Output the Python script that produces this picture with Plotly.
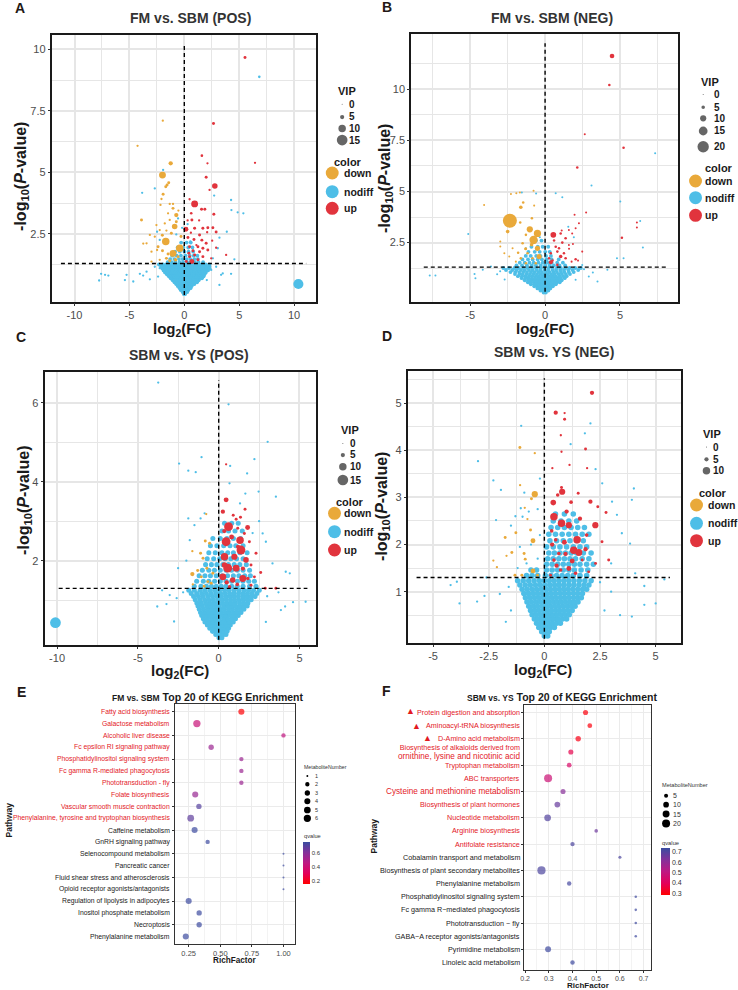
import plotly.graph_objects as go

W, H = 738, 990
FONT = "Liberation Sans, Arial, Helvetica, sans-serif"
C_DOWN, C_NODIFF, C_UP = "#E9A93A", "#4EBEE7", "#E1343D"
RED_TXT = "#E3191F"
DARK = "#1A1A1A"

# ======================= Panel A: FM vs. SBM (POS) =======================
# (log2FC, -log10 P, VIP)
A_up = [(5.53,9.67,3),(2.66,6.99,3),(1.60,5.68,2.5),(2.11,5.37,2),(6.44,5.39,2),(1.99,4.80,3),(2.78,4.45,7),
        (2.30,4.29,2),(0.94,3.72,9),(0.48,3.91,2),(1.57,3.50,3),(1.87,3.50,3),(0.63,3.34,2.5),(2.69,3.30,3),
        (0.69,3.07,3),(0.15,2.69,6),(0.94,2.73,3),(1.69,2.73,3),(2.14,2.75,3),(2.60,2.75,3),(2.08,2.57,2),
        (2.90,2.58,3),(0.33,2.36,3),(1.39,2.46,3),(0.88,2.28,3),(1.60,2.25,3),(1.99,2.12,3),(2.54,2.23,2),
        (0.48,1.98,3),(1.24,1.98,3),(1.69,1.92,3),(0.79,1.82,3),(1.39,1.78,3),(2.14,1.85,3),(2.90,1.94,2),
        (3.81,1.65,2),(0.48,1.58,3),(0.94,1.65,3),(1.69,1.58,3),(0.69,1.38,6),(0.18,1.38,3),(1.24,1.45,3),
        (2.45,1.51,2),(0.42,1.72,3),(1.10,2.05,2),(0.60,2.55,2),(1.35,3.05,2),(0.30,3.05,2)]
A_down = [(-1.96,7.10,2),(-4.26,6.08,2),(-1.24,5.37,5),(-1.99,4.89,9),(-1.57,4.49,3),(-1.69,4.42,3),(-1.42,4.58,3),
          (-1.93,4.11,3),(-2.08,3.92,2),(-2.17,3.68,2),(-1.33,3.72,2),(-1.03,3.72,2),(-1.03,3.54,3),(-1.48,3.34,2),
          (-0.73,3.27,5),(-0.54,3.45,2),(-3.90,3.07,3),(-0.73,3.00,3),(-0.88,2.80,7),(-1.33,3.07,2),(-1.78,2.93,2),
          (-2.54,2.86,2),(-2.24,2.66,2),(-1.63,2.64,2),(-1.18,2.53,3),(-3.14,2.46,2),(-2.69,2.39,2),(-1.69,2.19,10),
          (-3.44,2.12,2),(-3.74,2.11,2),(-2.39,1.98,3),(-1.99,1.82,3),(-0.42,1.92,10),(-1.03,1.71,9),(-2.99,1.78,2),
          (-2.48,1.85,2),(-1.48,1.69,3),(-0.57,1.58,3),(-1.63,1.51,3),(-2.24,1.45,2),(-2.99,1.38,2),(-1.33,1.41,3),
          (-0.80,1.45,4),(-0.30,2.40,3),(-2.00,2.45,3)]
A_nodiff = [(6.83,8.88,2.5),(4.26,3.88,2),(4.29,3.47,2),(4.86,3.38,2),(5.38,3.34,2),(-3.84,4.17,2),(-2.69,4.35,2),
            (-1.93,5.10,2),(2.72,4.06,2),(3.87,2.59,2),(4.56,1.47,2),(3.20,2.35,2),(3.05,1.92,2),(2.60,1.51,2),
            (-2.48,2.59,2),(-2.24,2.26,2),(-0.73,2.48,2),(-0.57,3.13,2),(-7.58,0.88,2),(-7.76,0.61,2),(-7.22,0.84,2),
            (-6.92,0.81,2),(-5.26,0.84,2),(-4.65,0.57,2),(-5.41,0.63,2),(-4.05,0.88,2),(-3.75,0.81,2),(-3.44,0.97,2),
            (-3.14,0.66,2),(-2.69,1.17,2),(-2.39,0.77,2),(-2.24,1.11,2),(2.90,1.17,2),(3.35,0.84,2),(3.50,0.90,2),
            (3.20,0.43,2),(4.26,0.88,2),(2.05,0.63,2),(2.45,1.04,2),(1.78,0.77,2),(2.20,1.24,2),(10.39,0.47,14),
            (0.30,2.90,2),(0.55,2.20,2),(-0.20,2.75,2)]
# dense nodiff core, rows of (-log10 P, [log2FC ...])
A_core = [(0.06,[-0.05,0.08]),(0.14,[-0.16,0.01,0.15,0.27]),(0.22,[-0.31,-0.14,0.03,0.19,0.35]),
          (0.30,[-0.43,-0.24,-0.08,0.11,0.26,0.43,0.57]),(0.38,[-0.58,-0.41,-0.21,-0.04,0.13,0.31,0.47,0.66]),
          (0.46,[-0.73,-0.54,-0.37,-0.17,0.01,0.19,0.35,0.55,0.71,0.9]),
          (0.54,[-0.9,-0.69,-0.51,-0.31,-0.12,0.07,0.24,0.45,0.61,0.83,0.99,1.16]),
          (0.62,[-1.06,-0.84,-0.65,-0.44,-0.26,-0.04,0.14,0.36,0.54,0.76,0.94,1.16,1.31]),
          (0.70,[-1.24,-1.01,-0.77,-0.59,-0.37,-0.19,0.03,0.21,0.43,0.61,0.83,1.01,1.23,1.41,1.61]),
          (0.78,[-1.41,-1.14,-0.93,-0.69,-0.51,-0.29,-0.11,0.11,0.29,0.51,0.69,0.91,1.09,1.31,1.51,1.76]),
          (0.86,[-1.59,-1.33,-1.07,-0.86,-0.61,-0.41,-0.17,0.03,0.27,0.47,0.71,0.91,1.15,1.35,1.61,1.84]),
          (0.94,[-1.76,-1.47,-1.23,-0.97,-0.75,-0.49,-0.27,-0.01,0.21,0.47,0.69,0.95,1.17,1.43,1.67,1.96]),
          (1.02,[-1.89,-1.61,-1.34,-1.11,-0.84,-0.61,-0.34,-0.11,0.16,0.39,0.66,0.89,1.16,1.39,1.66,1.89,2.16]),
          (1.10,[-2.01,-1.71,-1.46,-1.19,-0.96,-0.69,-0.46,-0.19,0.04,0.31,0.54,0.81,1.04,1.31,1.54,1.81,2.04,2.31]),
          (1.18,[-2.11,-1.81,-1.56,-1.27,-1.03,-0.75,-0.51,-0.24,0.01,0.26,0.49,0.76,0.99,1.26,1.49,1.76,1.99,2.29]),
          (1.26,[-2.31,-1.94,-1.66,-1.37,-1.11,-0.81,-0.56,-0.27,0.01,0.29,0.54,0.83,1.09,1.39,1.64,1.96,2.29]),
          (1.36,[-1.51,-1.14,-0.81,-0.44,-0.11,0.26,0.59,0.96,1.29,1.71]),
          (1.48,[-1.29,-0.91,-0.49,-0.16,0.21,0.54,0.91,1.24]),(1.62,[-1.11,-0.69,-0.31,0.11,0.49,0.86,1.19]),
          (1.78,[-0.84,-0.41,0.01,0.39,0.81]),(1.95,[-0.61,-0.09,0.36,0.74]),(2.15,[-0.29,0.21,0.59])]

# ======================= Panel B: FM vs. SBM (NEG) =======================
B_up = [(4.47,11.63,7),(4.29,10.21,3),(2.65,7.80,2),(5.24,7.14,3),(2.15,6.17,3),(2.74,3.97,2),(1.97,3.86,2),
        (6.13,3.48,2),(6.13,3.24,2),(2.26,3.45,2),(2.04,3.20,2),(1.59,3.12,2),(1.11,3.09,2),(0.55,2.88,9),
        (1.04,2.95,3),(1.81,2.95,2),(1.37,2.71,3),(5.13,2.74,3),(1.15,2.50,3),(0.71,2.30,3),(0.93,2.22,3),
        (1.59,2.38,2),(1.86,2.43,2),(2.48,2.06,2),(0.38,1.98,3),(0.82,2.06,3),(1.26,1.98,3),(1.04,1.82,5),
        (1.37,1.74,3),(0.27,1.74,3),(0.49,1.62,3),(2.04,1.69,3),(0.38,1.54,6),(0.82,1.41,3),(1.77,1.57,2),
        (2.20,1.62,2),(0.60,2.60,3),(1.60,2.20,2)]
B_down = [(-0.77,5.04,2),(-1.68,4.95,2),(-2.28,4.88,2),(-1.92,4.91,2),(-4.07,4.34,2),(-1.46,4.46,3),(-1.62,4.23,5),
          (-0.73,4.31,2),(-2.35,3.57,25),(-2.50,3.04,5),(-1.66,3.48,3),(-0.88,3.69,3),(-1.02,3.15,10),(-0.51,2.95,12),
          (-0.77,2.63,14),(-1.28,2.88,3),(-2.99,2.55,2),(-2.99,2.31,2),(-1.50,2.47,3),(-2.17,2.22,2),(-2.72,1.98,2),
          (-2.39,1.82,2),(-0.51,2.22,8),(-0.40,1.82,8),(-1.17,1.98,3),(-0.84,1.74,3),(-1.62,1.74,3),(-1.95,1.57,2),
          (-1.28,1.49,3),(-0.62,1.49,3),(-1.30,2.20,4),(-0.90,2.40,5),(-1.80,2.00,3)]
B_nodiff = [(7.35,6.87,2),(3.10,5.29,2),(0.71,4.91,2),(1.15,4.72,2),(5.02,4.51,2),(6.35,3.56,2),(6.53,2.26,2),
            (-5.13,2.92,2),(-0.35,2.76,2),(-1.28,2.22,2),(1.55,3.28,2),(1.92,2.76,2),(4.80,1.74,2),(5.24,1.74,2),
            (2.48,1.41,2),(4.16,1.17,2),(-7.70,0.89,2),(-7.32,0.89,2),(-4.71,0.97,2),(-4.65,0.76,2),(-4.16,1.17,2),
            (-3.61,1.33,2),(2.92,0.84,2),(3.19,1.04,2),(2.04,0.68,2),(-3.20,0.95,2),(-3.00,1.10,2),(-2.70,0.70,2),
            (2.60,1.20,2),(3.50,0.60,2),(-0.60,4.90,2),(-1.55,4.95,2)]
B_core = [(0.06,[-0.1,0.05]),(0.16,[-0.31,-0.12,0.06,0.22]),(0.26,[-0.51,-0.32,-0.14,0.02,0.19,0.35]),
          (0.36,[-0.72,-0.53,-0.34,-0.16,0.01,0.17,0.36,0.52]),
          (0.46,[-0.95,-0.74,-0.56,-0.37,-0.19,0.01,0.18,0.37,0.55,0.72]),
          (0.56,[-1.15,-0.96,-0.74,-0.55,-0.36,-0.17,0.02,0.21,0.39,0.61,0.79,0.98]),
          (0.66,[-1.36,-1.12,-0.91,-0.72,-0.51,-0.32,-0.11,0.08,0.29,0.48,0.69,0.88,1.11]),
          (0.76,[-1.56,-1.31,-1.11,-0.88,-0.67,-0.44,-0.24,-0.03,0.19,0.41,0.61,0.83,1.04,1.31]),
          (0.86,[-1.81,-1.54,-1.31,-1.07,-0.86,-0.61,-0.41,-0.17,0.05,0.28,0.51,0.72,0.96,1.21,1.44]),
          (0.96,[-2.01,-1.71,-1.49,-1.23,-1.01,-0.76,-0.54,-0.29,-0.07,0.17,0.41,0.63,0.89,1.12,1.39,1.66]),
          (1.06,[-2.31,-1.99,-1.73,-1.46,-1.21,-0.94,-0.71,-0.44,-0.21,0.06,0.29,0.56,0.79,1.06,1.29,1.59,1.91]),
          (1.16,[-2.61,-2.19,-1.91,-1.61,-1.36,-1.07,-0.83,-0.55,-0.31,-0.03,0.21,0.49,0.73,1.01,1.26,1.55,1.84,2.21]),
          (1.26,[-2.79,-2.41,-2.04,-1.76,-1.44,-1.17,-0.87,-0.61,-0.31,-0.06,0.23,0.49,0.79,1.05,1.36,1.64,2.01,2.39]),
          (1.38,[-1.91,-1.54,-1.21,-0.89,-0.61,-0.29,0.01,0.31,0.59,0.96,1.34]),
          (1.52,[-1.69,-1.36,-1.04,-0.76,-0.44,-0.16,0.16,0.44,0.81,1.19]),
          (1.68,[-1.51,-1.14,-0.83,-0.49,-0.21,0.11,0.44,0.91]),(1.85,[-1.29,-0.96,-0.59,-0.31,0.06,0.39]),
          (2.05,[-1.11,-0.69,-0.36,0.01,0.31]),(2.30,[-0.91,-0.49,-0.16,0.21]),(2.60,[-0.61,-0.24])]

# ======================= Panel C: SBM vs. YS (POS) =======================
C_up = [(0.46,4.44,2),(0.46,3.54,6),(0.26,3.24,5),(1.08,3.05,3),(1.63,3.30,3),(1.79,2.84,6),(0.61,2.86,12),
        (1.18,2.82,3),(0.46,2.48,12),(1.32,2.52,10),(1.59,2.69,3),(1.90,2.48,3),(0.36,2.10,10),(0.97,2.10,8),
        (1.38,2.27,12),(0.56,1.81,12),(1.08,1.81,9),(1.69,2.02,7),(2.31,2.19,3),(2.00,1.89,3),(1.49,1.55,9),
        (0.87,1.51,7),(0.26,1.59,9),(2.21,1.59,3),(2.00,1.38,3),(0.67,1.34,4),(2.88,1.30,3),(3.54,1.30,3),
        (0.36,1.89,7),(1.20,2.35,5),(0.80,2.60,6),(0.35,2.75,5),(1.50,1.80,5),(1.15,1.40,4),(0.50,1.45,5),
        (1.80,1.55,4),(2.60,1.70,3),(0.90,3.15,3),(1.35,3.10,3)]
C_down = [(-0.77,3.18,2),(-0.83,2.50,3),(-0.56,2.44,3),(-1.63,2.24,2),(-1.12,2.19,3),(-0.97,2.06,3),(-1.63,1.66,5),
          (-1.08,1.59,3),(-0.36,1.68,3),(-0.67,1.47,3),(-0.46,1.43,3),(-0.73,1.81,3),(-1.30,1.75,3),(-0.90,1.35,3),
          (-1.60,1.40,2)]
C_nodiff = [(-3.74,6.51,2),(0.61,5.96,2),(3.03,5.01,2),(-1.06,4.62,2),(-2.45,4.46,2),(-1.88,4.28,2),(-1.42,4.24,2),
            (0.71,4.40,2),(2.21,4.57,2),(1.76,4.21,2),(0.67,3.96,2),(2.47,3.75,2),(3.54,3.62,2),(1.65,3.70,2),
            (-0.87,3.20,2),(-1.12,3.07,2),(-1.88,3.07,2),(1.32,3.45,2),(2.72,2.69,2),(2.92,2.48,2),(-2.51,1.81,2),
            (-1.79,2.52,2),(4.15,1.72,2),(4.40,1.68,2),(3.33,1.93,2),(5.38,0.96,2),(4.11,0.84,2),(3.85,0.75,2),
            (-3.80,0.84,2),(-3.23,0.90,2),(-3.03,1.13,2),(-10.10,0.43,15),(-2.76,0.46,2),(2.92,0.45,2),(-2.20,1.20,2),
            (-2.60,1.05,2),(3.00,1.10,2),(3.70,1.20,2),(4.60,0.95,2),(-3.50,1.25,2),(2.10,2.70,2),(-1.50,2.90,2),
            (-2.00,2.00,2),(2.50,3.00,2)]
C_core = [(0.05,[0.02,0.2]),(0.13,[-0.18,0.05,0.28,0.45]),(0.21,[-0.38,-0.15,0.08,0.31,0.52]),
          (0.29,[-0.55,-0.32,-0.07,0.15,0.38,0.61]),(0.37,[-0.7,-0.47,-0.22,0.02,0.26,0.48,0.72]),
          (0.45,[-0.85,-0.61,-0.35,-0.1,0.16,0.4,0.64,0.9]),(0.53,[-0.95,-0.7,-0.44,-0.2,0.05,0.31,0.55,0.81,1.04]),
          (0.61,[-1.05,-0.79,-0.55,-0.29,-0.05,0.21,0.45,0.71,0.95,1.21]),
          (0.69,[-1.12,-0.86,-0.61,-0.35,-0.1,0.15,0.41,0.65,0.91,1.15,1.38]),
          (0.77,[-1.2,-0.94,-0.68,-0.42,-0.16,0.11,0.35,0.61,0.85,1.11,1.35,1.56]),
          (0.85,[-1.28,-1.01,-0.74,-0.48,-0.22,0.04,0.31,0.55,0.81,1.05,1.31,1.55,1.76]),
          (0.93,[-1.35,-1.08,-0.81,-0.54,-0.28,-0.02,0.24,0.51,0.76,1.02,1.29,1.54,1.81]),
          (1.01,[-1.45,-1.16,-0.87,-0.61,-0.33,-0.06,0.21,0.46,0.73,0.98,1.24,1.51,1.76,2.01]),
          (1.09,[-1.55,-1.25,-0.96,-0.66,-0.38,-0.1,0.17,0.44,0.71,0.96,1.22,1.49,1.74,2.01,2.25]),
          (1.17,[-1.7,-1.36,-1.05,-0.76,-0.46,-0.17,0.12,0.41,0.68,0.95,1.23,1.5,1.78,2.05,2.36]),
          (1.25,[-1.85,-1.51,-1.15,-0.86,-0.55,-0.25,0.05,0.36,0.65,0.96,1.25,1.56,1.85,2.16,2.51]),
          (1.35,[-1.51,-1.1,-0.76,-0.45,-0.15,0.16,0.45,0.81,1.15,1.51,1.91,2.31]),
          (1.48,[-1.36,-0.95,-0.61,-0.25,0.1,0.46,0.8,1.16,1.5,1.86,2.21]),
          (1.62,[-1.21,-0.85,-0.51,-0.15,0.21,0.55,0.91,1.25,1.61,1.96]),
          (1.76,[-1.01,-0.61,-0.26,0.1,0.46,0.8,1.16,1.51,1.91]),(1.90,[-0.81,-0.45,-0.11,0.26,0.6,0.96,1.31,1.71]),
          (2.05,[-0.71,-0.31,0.06,0.41,0.75,1.11,1.51]),(2.20,[-0.61,-0.21,0.2,0.56,0.91,1.31,1.76]),
          (2.38,[-0.51,-0.11,0.31,0.7,1.06,1.51]),(2.56,[-0.36,0.1,0.51,0.91,1.36]),(2.75,[0.21,0.61,1.01,1.46]),
          (2.95,[0.36,0.81,1.21])]

# ======================= Panel D: SBM vs. YS (NEG) =======================
D_up = [(2.14,5.22,5),(0.51,4.80,5),(0.91,4.79,2),(0.91,4.66,3),(0.74,4.32,2),(0.77,3.97,2),(1.85,4.03,3),
        (0.36,3.62,2),(1.13,3.69,2),(1.92,3.62,2),(0.77,3.21,3),(0.80,3.12,8),(0.40,2.89,7),(0.43,2.59,10),
        (2.07,2.91,5),(1.52,3.09,3),(0.77,2.45,10),(1.10,2.41,8),(2.29,2.41,8),(0.33,2.29,4),(1.47,2.10,10),
        (1.32,1.88,10),(1.55,1.83,9),(2.59,2.06,3),(0.51,2.10,4),(0.65,1.81,4),(0.43,1.67,4),(1.10,1.49,6),
        (1.70,1.67,3),(2.89,1.67,3),(0.73,1.46,4),(1.99,1.42,3),(0.28,1.35,3),(1.40,1.39,4),(2.77,2.68,3),
        (1.00,2.70,5),(1.60,2.55,5),(0.35,2.00,5),(1.90,2.20,4),(1.20,2.90,4),(0.60,3.05,4),(2.40,2.80,3),
        (1.85,1.90,5),(0.90,2.05,6),(1.25,1.65,6),(0.55,1.55,5),(0.95,1.80,5),(2.30,1.60,3)]
D_down = [(-1.10,4.06,3),(-0.43,3.94,2),(-1.09,3.26,2),(-0.43,3.07,8),(-0.58,2.97,3),(-0.88,2.78,2),(-0.76,2.54,2),
          (-0.62,2.31,3),(-1.76,2.15,3),(-1.28,2.25,3),(-0.51,2.08,6),(-1.46,1.83,3),(-1.70,1.76,2),(-2.29,1.66,2),
          (-2.13,1.52,2),(-0.91,1.81,3),(-0.86,1.69,3),(-0.51,1.44,6),(-1.32,1.35,3),(-1.01,1.35,3),(-0.31,1.35,3)]
D_nodiff = [(-2.98,3.77,2),(-1.04,4.52,2),(2.07,4.57,2),(1.82,4.36,2),(1.18,4.13,2),(-2.29,3.36,2),(-1.95,3.16,2),
            (-2.17,2.52,2),(4.02,3.19,2),(3.93,2.95,2),(3.26,2.63,2),(3.04,2.91,2),(3.48,2.24,2),(3.85,2.02,2),
            (-1.06,2.77,2),(-0.98,2.59,2),(-4.21,1.14,2),(-3.93,1.21,2),(-3.81,0.75,2),(-3.02,0.79,2),(-2.69,0.91,2),
            (4.49,1.12,2),(4.49,0.72,2),(5.00,0.75,2),(5.39,1.26,2),(3.93,0.47,2),(4.08,1.39,2),(-1.73,0.36,2),
            (-2.60,1.30,2),(-1.60,1.10,2),(-2.00,0.95,2),(2.50,1.20,2),(3.00,1.00,2),(3.40,0.50,2),(2.70,0.60,2),
            (-1.50,0.60,2),(2.30,3.60,2),(2.60,3.30,2),(-1.50,2.40,2),(-0.30,2.75,2),(-0.20,3.40,2),(3.00,1.60,2),
            (-1.20,1.50,2),(-0.80,1.60,2),(-0.30,1.70,2),(-1.10,1.95,2),(-0.60,2.00,2),(-0.20,2.20,2),(-1.30,2.60,2),
            (-0.70,2.70,2),(-0.90,3.10,2)]
D_core = [(0.06,[0.0,0.15]),(0.15,[-0.12,0.05,0.22]),(0.24,[-0.25,-0.07,0.1,0.28,0.45]),
          (0.33,[-0.35,-0.17,0.01,0.18,0.36,0.55,0.72]),(0.42,[-0.45,-0.27,-0.09,0.09,0.27,0.45,0.63,0.82,1.0]),
          (0.51,[-0.55,-0.36,-0.17,0.02,0.21,0.38,0.56,0.75,0.94,1.12]),
          (0.60,[-0.62,-0.43,-0.24,-0.05,0.14,0.32,0.51,0.68,0.87,1.06,1.25]),
          (0.69,[-0.7,-0.5,-0.31,-0.1,0.1,0.28,0.46,0.64,0.83,1.02,1.21,1.38]),
          (0.78,[-0.78,-0.58,-0.38,-0.18,0.02,0.22,0.41,0.58,0.76,0.95,1.14,1.33,1.51]),
          (0.87,[-0.85,-0.64,-0.44,-0.24,-0.04,0.16,0.35,0.54,0.73,0.92,1.11,1.31,1.5,1.66]),
          (0.96,[-0.92,-0.71,-0.5,-0.3,-0.1,0.11,0.3,0.5,0.71,0.9,1.1,1.31,1.5,1.71]),
          (1.05,[-1.0,-0.78,-0.56,-0.35,-0.14,0.07,0.27,0.47,0.67,0.87,1.07,1.28,1.5,1.72,1.9]),
          (1.14,[-1.1,-0.86,-0.63,-0.4,-0.18,0.04,0.25,0.46,0.67,0.88,1.1,1.32,1.55,1.78,2.0]),
          (1.23,[-1.2,-0.95,-0.7,-0.46,-0.22,0.0,0.22,0.44,0.66,0.88,1.1,1.33,1.57,1.82,2.1]),
          (1.34,[-0.8,-0.55,-0.3,0.05,0.3,0.55,0.8,1.05,1.3,1.6,1.9]),
          (1.46,[-0.6,-0.35,0.1,0.35,0.6,0.85,1.1,1.35,1.65,1.95]),
          (1.58,[0.1,0.35,0.6,0.85,1.1,1.35,1.6,1.9,2.2]),(1.70,[0.15,0.4,0.65,0.9,1.15,1.4,1.7,2.0]),
          (1.82,[0.2,0.45,0.7,0.95,1.2,1.45,1.75,2.1]),(1.95,[0.1,0.4,0.7,1.0,1.3,1.6,1.9]),
          (2.08,[0.25,0.55,0.85,1.15,1.45,1.75]),(2.22,[0.2,0.5,0.8,1.1,1.4,1.7,2.0]),
          (2.36,[0.3,0.6,0.9,1.2,1.5,1.8]),(2.50,[0.4,0.75,1.1,1.45]),(2.65,[0.5,0.9,1.3])]

# ======================= Panel E: KEGG FM vs. SBM =======================
E_pathways = ["Fatty acid biosynthesis", "Galactose metabolism", "Alcoholic liver disease",
              "Fc epsilon RI signaling pathway", "Phosphatidylinositol signaling system",
              "Fc gamma R-mediated phagocytosis", "Phototransduction - fly", "Folate biosynthesis",
              "Vascular smooth muscle contraction", "Phenylalanine, tyrosine and tryptophan biosynthesis",
              "Caffeine metabolism", "GnRH signaling pathway", "Selenocompound metabolism", "Pancreatic cancer",
              "Fluid shear stress and atherosclerosis", "Opioid receptor agonists/antagonists",
              "Regulation of lipolysis in adipocytes", "Inositol phosphate metabolism", "Necroptosis",
              "Phenylalanine metabolism"]
E_rich = [0.667, 0.315, 1.0, 0.428, 0.667, 0.667, 0.667, 0.302, 0.331, 0.266,
          0.297, 0.4, 1.0, 1.0, 1.0, 1.0, 0.25, 0.333, 0.333, 0.227]
E_num = [4, 6, 2, 3, 2, 2, 2, 4, 3, 5, 4, 2, 1, 1, 1, 1, 4, 3, 3, 4]
E_q = [0.17, 0.42, 0.45, 0.55, 0.55, 0.55, 0.55, 0.56, 0.70, 0.68,
       0.75, 0.75, 0.75, 0.75, 0.75, 0.75, 0.75, 0.75, 0.75, 0.75]
E_red = 10

# ======================= Panel F: KEGG SBM vs. YS =======================
F_pathways = ["Protein digestion and absorption", "Aminoacyl-tRNA biosynthesis", "D-Amino acid metabolism",
              "Biosynthesis of alkaloids derived from ornithine, lysine and nicotinic acid",
              "Tryptophan metabolism", "ABC transporters", "Cysteine and methionine metabolism",
              "Biosynthesis of plant hormones", "Nucleotide metabolism", "Arginine biosynthesis",
              "Antifolate resistance", "Cobalamin transport and metabolism",
              "Biosynthesis of plant secondary metabolites", "Phenylalanine metabolism",
              "Phosphatidylinositol signaling system", "Fc gamma R\u2212mediated phagocytosis",
              "Phototransduction \u2212 fly", "GABA\u2212A receptor agonists/antagonists",
              "Pyrimidine metabolism", "Linoleic acid metabolism"]
F_rich = [0.455, 0.473, 0.424, 0.393, 0.386, 0.297, 0.36, 0.336, 0.295, 0.5,
          0.4, 0.6, 0.269, 0.386, 0.667, 0.667, 0.667, 0.667, 0.297, 0.4]
F_num = [8, 7, 9, 8, 7, 20, 8, 10, 14, 4, 6, 3, 21, 6, 2, 2, 2, 2, 11, 6]
F_q = [0.30, 0.30, 0.31, 0.38, 0.43, 0.47, 0.62, 0.67, 0.70, 0.66,
       0.71, 0.71, 0.71, 0.72, 0.73, 0.73, 0.73, 0.73, 0.73, 0.73]
F_red = 11

QSCALE = [[0.0, "#FF0000"], [0.25, "#E3005A"], [0.5, "#BE1883"], [0.75, "#84309A"], [1.0, "#3A4DA0"]]

# ---------- helpers ----------
def px_x(x): return x / W
def px_y(y): return 1 - y / H
def dom_x(a, b): return [a / W, b / W]
def dom_y(top, bot): return [1 - bot / H, 1 - top / H]

size_A = lambda v: 1 + 0.65 * v
size_B = lambda v: 1 + 0.52 * v
size_C = lambda v: 1 + 0.65 * v
size_D = lambda v: 1 + 0.65 * v
size_E = lambda n: 2 + 5.3 * ((n - 1) / 5) ** 0.5
size_F = lambda n: 1.8 * n ** 0.5

fig = go.Figure()
annotations = []
shapes = []

def ann(text, x, y, size, color=DARK, bold=False, xanchor="center", yanchor="middle", angle=0, align="center"):
    annotations.append(dict(text=("<b>%s</b>" % text) if bold else text, x=px_x(x), y=px_y(y),
                            xref="paper", yref="paper", showarrow=False, xanchor=xanchor, yanchor=yanchor,
                            textangle=angle, align=align, borderpad=0,
                            font=dict(size=size, color=color, family=FONT)))

def circle(cx, cy, d, color):
    shapes.append(dict(type="circle", xref="paper", yref="paper", x0=px_x(cx - d / 2), x1=px_x(cx + d / 2),
                       y0=px_y(cy + d / 2), y1=px_y(cy - d / 2), fillcolor=color, line=dict(width=0), layer="above"))

def volcano(xa, ya, nodiff, core, core_vip, down, up, sf):
    pts = list(nodiff) + [(x, y, core_vip) for y, xs in core for x in xs]
    for grp, col in [(pts, C_NODIFF), (down, C_DOWN), (up, C_UP)]:
        fig.add_trace(go.Scatter(x=[p[0] for p in grp], y=[p[1] for p in grp], mode="markers",
                                 marker=dict(size=[sf(p[2]) for p in grp], color=col, line=dict(width=0), opacity=1),
                                 xaxis=xa, yaxis=ya, showlegend=False, hoverinfo="skip"))

volcano("x", "y", A_nodiff, A_core, 4.3, A_down, A_up, size_A)
volcano("x2", "y2", B_nodiff, B_core, 5.5, B_down, B_up, size_B)
volcano("x3", "y3", C_nodiff, C_core, 6.2, C_down, C_up, size_C)
volcano("x4", "y4", D_nodiff, D_core, 7.0, D_down, D_up, size_D)

GRID = "#E6E6E6"

def vaxis(domain, rng, tickvals, ticktext, minor_vals, anchor):
    return dict(domain=domain, range=rng, tickmode="array", tickvals=tickvals, ticktext=ticktext,
                showgrid=True, gridcolor=GRID, gridwidth=1.7,
                minor=dict(tickmode="array", tickvals=minor_vals, showgrid=True, gridcolor=GRID, gridwidth=0.9, ticks=""),
                zeroline=False, showline=True, mirror=True, linecolor=DARK, linewidth=1.5,
                ticks="outside", ticklen=2.5, tickwidth=1, tickcolor="#333333",
                tickfont=dict(size=11, color="#4D4D4D", family=FONT), anchor=anchor, fixedrange=True)

layout_axes = {
    "xaxis": vaxis(dom_x(48.3, 313.3), [-12.05, 11.96], [-10, -5, 0, 5, 10], ["-10", "-5", "0", "5", "10"], [-7.5, -2.5, 2.5, 7.5], "y"),
    "yaxis": vaxis(dom_y(35, 301.7), [-0.25, 10.58], [2.5, 5, 7.5, 10], ["2.5", "5", "7.5", "10"], [1.25, 3.75, 6.25, 8.75], "x"),
    "xaxis2": vaxis(dom_x(409.7, 677.3), [-8.92, 8.85], [-5, 0, 5], ["-5", "0", "5"], [-7.5, -2.5, 2.5, 7.5], "y2"),
    "yaxis2": vaxis(dom_y(34.3, 301.7), [-0.39, 12.69], [2.5, 5, 7.5, 10], ["2.5", "5", "7.5", "10"], [1.25, 3.75, 6.25, 8.75, 11.25], "x2"),
    "xaxis3": vaxis(dom_x(41, 314), [-10.76, 6.04], [-10, -5, 0, 5], ["-10", "-5", "0", "5"], [-7.5, -2.5, 2.5], "y3"),
    "yaxis3": vaxis(dom_y(372.3, 645), [-0.135, 6.77], [2, 4, 6], ["2", "4", "6"], [1, 3, 5], "x3"),
    "xaxis4": vaxis(dom_x(406.3, 680.3), [-6.12, 6.12], [-5, -2.5, 0, 2.5, 5], ["-5", "-2.5", "0", "2.5", "5"], [-3.75, -1.25, 1.25, 3.75], "y4"),
    "yaxis4": vaxis(dom_y(370.7, 643), [-0.09, 5.69], [1, 2, 3, 4, 5], ["1", "2", "3", "4", "5"], [0.5, 1.5, 2.5, 3.5, 4.5, 5.5], "x4"),
}

# dashed threshold lines: (xref, yref, vertical y-extent, horizontal x-extent)
P_CUT = 1.3
FC_CUT = 0
DASH = [("x", "y", (0.02, 10.24), (-11.24, 11.1)), ("x2", "y2", (0.1, 12.25), (-8.1, 8.12)),
        ("x3", "y3", (0.0, 6.57), (-9.9, 5.49)), ("x4", "y4", (0.0, 5.53), (-5.74, 5.64))]
for xr, yr, (v0, v1), (h0, h1) in DASH:
    shapes.append(dict(type="line", xref=xr, yref=yr, x0=FC_CUT, x1=FC_CUT, y0=v0, y1=v1,
                       line=dict(color="#000000", width=1.4, dash="4px,3px"), layer="above"))
    shapes.append(dict(type="line", xref=xr, yref=yr, x0=h0, x1=h1, y0=P_CUT, y1=P_CUT,
                       line=dict(color="#000000", width=1.4, dash="4px,3px"), layer="above"))

# ---------- KEGG dot plots ----------
def kegg_axes(xdom, ydom, xr, xt, xtt, xminor, n, pad, anchor_x, anchor_y, tsize):
    xa = dict(domain=xdom, range=xr, tickmode="array", tickvals=xt, ticktext=xtt, showgrid=True,
              gridcolor="#EBEBEB", gridwidth=0.8,
              minor=dict(tickmode="array", tickvals=xminor, showgrid=True, gridcolor="#F3F3F3", gridwidth=0.6, ticks=""),
              zeroline=False, showline=True, mirror=True, linecolor="#333333", linewidth=1.1,
              ticks="outside", ticklen=1.5, tickcolor="#333333", tickfont=dict(size=tsize, color="#4D4D4D", family=FONT),
              anchor=anchor_y, fixedrange=True)
    ya = dict(domain=ydom, type="category", range=[n - 1 + pad, -pad], showticklabels=False, showgrid=True,
              gridcolor="#EBEBEB", gridwidth=0.8, zeroline=False, showline=True, mirror=True, linecolor="#333333",
              linewidth=1.1, ticks="outside", ticklen=2, tickcolor="#333333", anchor=anchor_x, fixedrange=True)
    return xa, ya

xa5, ya5 = kegg_axes(dom_x(171.7, 292.3), dom_y(704.3, 944), [0.14, 1.089], [0.25, 0.5, 0.75, 1.0],
                     ["0.25", "0.50", "0.75", "1.00"], [0.375, 0.625, 0.875], len(E_pathways), 0.63, "x5", "y5", 7.5)
ya5["categoryorder"] = "array"; ya5["categoryarray"] = E_pathways
xa6, ya6 = kegg_axes(dom_x(523, 650.7), dom_y(705, 970), [0.196, 0.732], [0.2, 0.3, 0.4, 0.5, 0.6, 0.7],
                     ["0.2", "0.3", "0.4", "0.5", "0.6", "0.7"], [0.25, 0.35, 0.45, 0.55, 0.65], len(F_pathways), 0.57, "x6", "y6", 7)
ya6["categoryorder"] = "array"; ya6["categoryarray"] = F_pathways
layout_axes.update({"xaxis5": xa5, "yaxis5": ya5, "xaxis6": xa6, "yaxis6": ya6})

fig.add_trace(go.Scatter(x=E_rich, y=E_pathways, mode="markers", xaxis="x5", yaxis="y5", showlegend=False,
                         hoverinfo="skip",
                         marker=dict(size=[size_E(n) for n in E_num], color=E_q, colorscale=QSCALE, cmin=0.163,
                                     cmax=0.757, line=dict(width=0), showscale=True,
                                     colorbar=dict(x=px_x(301), xanchor="left", y=px_y(841.7), yanchor="top",
                                                   len=41.6, lenmode="pixels", thickness=7, thicknessmode="pixels",
                                                   xpad=0, ypad=0, outlinewidth=0, ticks="", tickmode="array",
                                                   tickvals=[0.2, 0.4, 0.6],
                                                   tickfont=dict(size=6, color="#333333", family=FONT)))))
fig.add_trace(go.Scatter(x=F_rich, y=F_pathways, mode="markers", xaxis="x6", yaxis="y6", showlegend=False,
                         hoverinfo="skip",
                         marker=dict(size=[size_F(n) for n in F_num], color=F_q, colorscale=QSCALE, cmin=0.284,
                                     cmax=0.739, line=dict(width=0), showscale=True,
                                     colorbar=dict(x=px_x(660.7), xanchor="left", y=px_y(847.7), yanchor="top",
                                                   len=46.6, lenmode="pixels", thickness=9, thicknessmode="pixels",
                                                   xpad=0, ypad=0, outlinewidth=0, ticks="", tickmode="array",
                                                   tickvals=[0.3, 0.4, 0.5, 0.6, 0.7],
                                                   tickfont=dict(size=7, color="#333333", family=FONT)))))

# pathway labels (E)
for i, name in enumerate(E_pathways):
    annotations.append(dict(text=name, x=px_x(168), y=i, xref="paper", yref="y5", showarrow=False,
                            xanchor="right", yanchor="middle", borderpad=0,
                            font=dict(size=6.8, color=RED_TXT if i < E_red else DARK, family=FONT)))
# pathway labels (F)
for i, name in enumerate(F_pathways):
    col = RED_TXT if i < F_red else DARK
    size = 7.2
    text = name
    if name.startswith("Biosynthesis of alkaloids"):
        text = "Biosynthesis of alkaloids derived from<br><span style='font-size:8.2px'>ornithine, lysine and nicotinic acid</span>"
    if name.startswith("Cysteine"):
        size = 8.2
    annotations.append(dict(text=text, x=px_x(519.7), y=i, xref="paper", yref="y6", showarrow=False,
                            xanchor="right", yanchor="middle", align="right", borderpad=0,
                            font=dict(size=size, color=col, family=FONT)))
for tx, ty in [(408.7, 711.0), (414.7, 726.0), (425.7, 737.5)]:
    ann("\u25B2", tx, ty, 9, color=RED_TXT)

# ---------- texts: panel letters, titles, axis titles ----------
for letter, lx, ly in [("A", 16, 8), ("B", 384.7, 7), ("C", 17, 336.7), ("D", 385.3, 335.7), ("E", 17.7, 691.7), ("F", 384.7, 691)]:
    ann(letter, lx, ly, 14, color="#231815", bold=True)
for t, tx, ty in [("FM vs. SBM (POS)", 187.5, 18.3), ("FM vs. SBM (NEG)", 551.3, 18), ("SBM vs. YS (POS)", 185.8, 355),
                  ("SBM vs. YS (NEG)", 553.3, 352.3)]:
    ann(t, tx, ty, 14, color="#333333", bold=True)
XT = "log<sub>2</sub>(FC)"
YT = "-log<sub>10</sub>(<i>P</i>-value)"
for tx, ty in [(178.7, 329.3), (543.5, 329.3), (176.5, 671.3), (542.2, 670.5)]:
    ann(XT, tx, ty, 15, bold=True)
for tx, ty in [(17, 176), (383, 178), (20, 500), (381, 506)]:
    ann(YT, tx, ty, 16, bold=True, angle=-90)

ann("<span style='font-size:8.5px'>FM vs. SBM</span> Top 20 of KEGG Enrichment", 205, 697, 10.5, bold=True)
ann("<span style='font-size:8.5px'>SBM vs. YS</span> Top 20 of KEGG Enrichment", 561, 697, 10.5, bold=True)
ann("Pathway", 5.5, 820, 8.5, bold=True, angle=-90)
ann("Pathway", 372.5, 836, 8.5, bold=True, angle=-90)
ann("RichFactor", 232, 960.5, 8.2, bold=True)
ann("RichFactor", 587, 985.3, 8, bold=True)

# ---------- volcano legends ----------
VIP_LEG = {"A": [0, 5, 10, 15], "B": [0, 5, 10, 15, 20], "C": [0, 5, 10, 15], "D": [0, 5, 10]}
COLOR_LEG = [("down", C_DOWN), ("nodiff", C_NODIFF), ("up", C_UP)]
LEG = [  # key, size fn, VIP title (x,y), key x, label x, ys, color title (x,y), ckey x, clabel x, cys
    ("A", size_A, (335, 91.3), 340, 346, [104.3, 117, 128.5, 140], (331, 162), 330, 341, [173, 191.7, 208.3]),
    ("B", size_B, (699.7, 82.3), 703, 713, [94.6, 107.3, 118.3, 131, 146.7], (704, 168), 695.3, 704, [181, 197.7, 215.3]),
    ("C", size_C, (337.7, 430.3), 340.7, 346.7, [443.6, 455, 466.7, 480], (333, 502), 332.3, 340.7, [513.3, 531.7, 550]),
    ("D", size_D, (702.3, 434), 706.3, 712.3, [447, 459.3, 470.7], (698, 492.7), 696.3, 707.3, [505, 523.3, 540.7]),
]
for key, sf, (tx, ty), kx, lx, ys, (ctx, cty), ckx, clx, cys in LEG:
    ann("VIP", tx, ty, 11, bold=True, xanchor="left")
    for v, yy in zip(VIP_LEG[key], ys):
        circle(kx, yy, sf(v), "#666666")
        ann(str(v), lx, yy, 10, bold=True, xanchor="left")
    ann("color", ctx, cty, 11, bold=True, xanchor="left")
    for (lab, col), yy in zip(COLOR_LEG, cys):
        circle(ckx, yy, 13, col)
        ann(lab, clx, yy, 10.5, bold=True, xanchor="left")

# ---------- KEGG legends ----------
E_LEG = [1, 2, 3, 4, 5, 6]
ann("MetaboliteNumber", 301, 766.7, 5.2, color="#333333", xanchor="left")
for n, yy in zip(E_LEG, [776, 784.3, 793, 801.3, 810, 818.3]):
    circle(305, yy, size_E(n), "#000000")
    ann(str(n), 312, yy, 5.5, color="#333333", xanchor="left")
ann("qvalue", 301, 835.7, 5.7, color="#333333", xanchor="left")

F_LEG = [5, 10, 15, 20]
ann("MetaboliteNumber", 660.7, 785, 5.6, color="#333333", xanchor="left")
for n, yy in zip(F_LEG, [795.7, 804.7, 814, 823.5]):
    circle(665.7, yy, size_F(n), "#000000")
    ann(str(n), 672, yy, 7, color="#333333", xanchor="left")
ann("qvalue", 660.7, 842.7, 5.8, color="#333333", xanchor="left")

fig.update_layout(width=W, height=H, autosize=False, margin=dict(l=0, r=0, t=0, b=0, pad=0),
                  paper_bgcolor="white", plot_bgcolor="white", showlegend=False, hovermode=False,
                  annotations=annotations, shapes=shapes, font=dict(family=FONT), **layout_axes)
fig.write_html("out.html")
